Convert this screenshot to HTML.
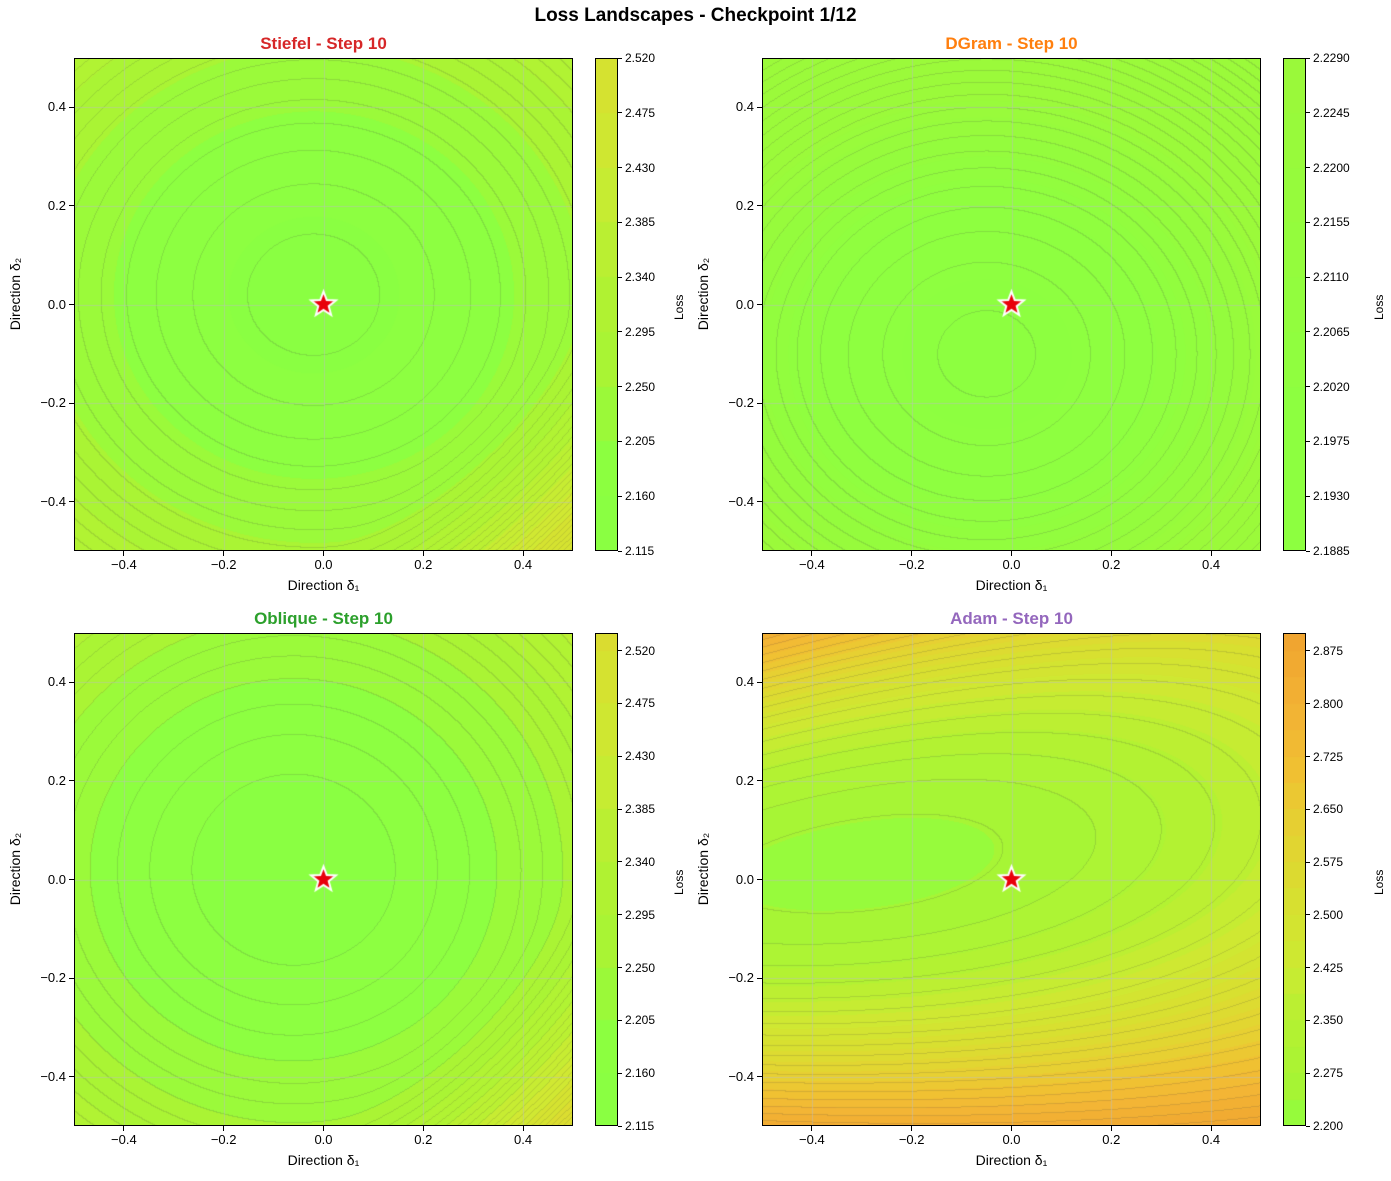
<!DOCTYPE html>
<html><head><meta charset="utf-8"><style>
body{margin:0;background:#fff;width:1391px;height:1181px;position:relative;overflow:hidden;font-family:"Liberation Sans","DejaVu Sans",sans-serif;color:#000}
.a{position:absolute;white-space:nowrap}
canvas{position:absolute}
.box{position:absolute;border:1px solid #000;box-sizing:border-box}
</style></head><body>
<div class="a" style="left:0;width:1391px;top:5px;text-align:center;font-weight:bold;font-size:19px">Loss Landscapes - Checkpoint 1/12</div>
<div id="root"></div>
<script>
const stops=[[2.10,[136,255,68]],[2.20,[142,255,64]],[2.25,[166,245,53]],[2.34,[180,242,50]],[2.43,[205,234,50]],[2.52,[216,224,48]],[2.62,[229,210,50]],[2.70,[240,194,50]],[2.78,[243,181,53]],[2.90,[240,165,48]]];
function cmap(L){if(L<=stops[0][0])return stops[0][1];for(let i=1;i<stops.length;i++){if(L<=stops[i][0]){const a=stops[i-1],b=stops[i];const t=(L-a[0])/(b[0]-a[0]);return a[1].map((v,k)=>v+(b[1][k]-v)*t);}}return stops[stops.length-1][1];}
const P=[
{x:74,y:58,t:"Stiefel - Step 10",c:"#d62728",lo:2.115,hi:2.52,band:0.045,fine:0.014,ticks:[2.115,2.16,2.205,2.25,2.295,2.34,2.385,2.43,2.475,2.52],
 f:(x,y)=>{const dx=x+0.02,dy=y-0.02;return 2.15+0.36*(dx*dx*0.95+dy*dy*1.1)+0.9*Math.max(0,x-y-0.5)**2;}},
{x:762,y:58,t:"DGram - Step 10",c:"#ff7f0e",lo:2.1885,hi:2.229,band:0.0045,fine:0.0035,ticks:[2.1885,2.193,2.1975,2.202,2.2065,2.211,2.2155,2.22,2.2245,2.229],
 f:(x,y)=>{const dx=x+0.05,dy=y+0.1;return 2.19+0.13*(dx*dx*0.8+dy*dy*1.0);}},
{x:74,y:633,t:"Oblique - Step 10",c:"#2ca02c",lo:2.115,hi:2.535,band:0.045,fine:0.015,ticks:[2.115,2.16,2.205,2.25,2.295,2.34,2.385,2.43,2.475,2.52],
 f:(x,y)=>{const dx=x+0.06,dy=y-0.02;return 2.145+0.38*(dx*dx*0.95+dy*dy*1.05)+0.9*Math.max(0,x-y-0.5)**2;}},
{x:762,y:633,t:"Adam - Step 10",c:"#9467bd",lo:2.2,hi:2.9005,band:0.0375,fine:0.035,ticks:[2.2,2.275,2.35,2.425,2.5,2.575,2.65,2.725,2.8,2.875],
 f:(x,y)=>{const g=0.03+0.12*(x+0.3);const A=1.9*(1-0.6*x);return 2.22+A*(y-g)**2+0.25*(x+0.3)**2;}}
];
const W=499,H=493,root=document.getElementById('root');
function add(h){root.insertAdjacentHTML('beforeend',h);}
P.forEach((p,pi)=>{
 const cv=document.createElement('canvas');cv.width=W;cv.height=H;cv.style.left=p.x+'px';cv.style.top=p.y+'px';root.appendChild(cv);
 const ctx=cv.getContext('2d');const im=ctx.createImageData(W,H);
 const F=new Float32Array((W+1)*(H+1));
 for(let j=0;j<=H;j++)for(let i=0;i<=W;i++){F[j*(W+1)+i]=p.f(-0.5+i/W,0.5-j/H);}
 for(let j=0;j<H;j++)for(let i=0;i<W;i++){
  const L=F[j*(W+1)+i];const b=Math.min(Math.floor((L-p.lo)/p.band),Math.floor((p.hi-p.lo)/p.band-1e-9));
  const lm=p.lo+(Math.max(b,0)+0.5)*p.band;let c=cmap(lm).slice();
  const q=Math.floor(L/p.fine),qr=Math.floor(F[j*(W+1)+i+1]/p.fine),qd=Math.floor(F[(j+1)*(W+1)+i]/p.fine);
  if(q!==qr||q!==qd){c=c.map(v=>v*0.84+60*0.16);}
  const k=(j*W+i)*4;im.data[k]=c[0];im.data[k+1]=c[1];im.data[k+2]=c[2];im.data[k+3]=255;}
 ctx.putImageData(im,0,0);
 ctx.strokeStyle='rgba(190,190,190,0.5)';ctx.lineWidth=1;
 [-0.4,-0.2,0,0.2,0.4].forEach(v=>{const X=Math.round((v+0.5)*W)+0.5;ctx.beginPath();ctx.moveTo(X,0);ctx.lineTo(X,H);ctx.stroke();const Y=Math.round((0.5-v)*H)+0.5;ctx.beginPath();ctx.moveTo(0,Y);ctx.lineTo(W,Y);ctx.stroke();});
 const cx=W/2,cy=H/2;ctx.beginPath();for(let k=0;k<10;k++){const r=k%2?5.5:13;const a=-Math.PI/2+k*Math.PI/5;ctx.lineTo(cx+r*Math.cos(a),cy+r*Math.sin(a));}ctx.closePath();ctx.fillStyle='#e8000b';ctx.fill();ctx.strokeStyle='#fff';ctx.lineWidth=2;ctx.stroke();
 add(`<div class="box" style="left:${p.x}px;top:${p.y}px;width:${W}px;height:${H}px"></div>`);
 add(`<div class="a" style="left:${p.x}px;width:${W}px;top:${p.y-24}px;text-align:center;font-weight:bold;font-size:17px;color:${p.c}">${p.t}</div>`);
 add(`<div class="a" style="left:${p.x}px;width:${W}px;top:${p.y+H+26}px;text-align:center;font-size:14px">Direction δ₁</div>`);
 add(`<div class="a" style="left:${p.x-67}px;top:${p.y+H/2-8}px;width:0;"><div style="transform:rotate(-90deg);transform-origin:0 0;position:absolute;left:0;top:52px;width:110px;text-align:center;font-size:14px">Direction δ₂</div></div>`);
 [-0.4,-0.2,0,0.2,0.4].forEach(v=>{const X=p.x+(v+0.5)*W;const s=(v<0?'−':'')+Math.abs(v).toFixed(1);
  add(`<div class="a" style="left:${X-0.5}px;top:${p.y+H}px;width:1px;height:5px;background:#000"></div>`);
  add(`<div class="a" style="left:${X-30}px;width:60px;text-align:center;top:${p.y+H+6}px;font-size:13px">${s}</div>`);
  const Y=p.y+(0.5-v)*H;
  add(`<div class="a" style="left:${p.x-5}px;top:${Y-0.5}px;width:5px;height:1px;background:#000"></div>`);
  add(`<div class="a" style="left:${p.x-60}px;width:52px;text-align:right;top:${Y-8}px;font-size:13px">${s}</div>`);});
 const bx=p.x+521,bw=23;const cb=document.createElement('canvas');cb.width=bw;cb.height=H;cb.style.left=bx+'px';cb.style.top=p.y+'px';root.appendChild(cb);
 const c2=cb.getContext('2d');for(let j=0;j<H;j++){const L=p.hi-(j+0.5)/H*(p.hi-p.lo);const b=Math.floor((L-p.lo)/p.band);const c=cmap(p.lo+(b+0.5)*p.band);c2.fillStyle=`rgb(${c[0]|0},${c[1]|0},${c[2]|0})`;c2.fillRect(0,j,bw,1);}
 add(`<div class="box" style="left:${bx}px;top:${p.y}px;width:${bw}px;height:${H}px"></div>`);
 p.ticks.forEach(t=>{const Y=p.y+H-(t-p.lo)/(p.hi-p.lo)*H;add(`<div class="a" style="left:${bx+bw}px;top:${Y-0.5}px;width:4px;height:1px;background:#000"></div>`);add(`<div class="a" style="left:${bx+bw+7}px;top:${Y-7}px;font-size:12px">${t.toFixed(pi==1?4:3)}</div>`);});
 const lx=pi%2?bx+bw+66:bx+bw+54;
 add(`<div class="a" style="left:${lx}px;top:${p.y+H/2+15}px;transform:rotate(-90deg);transform-origin:0 0;font-size:12px">Loss</div>`);
});
</script>
</body></html>
